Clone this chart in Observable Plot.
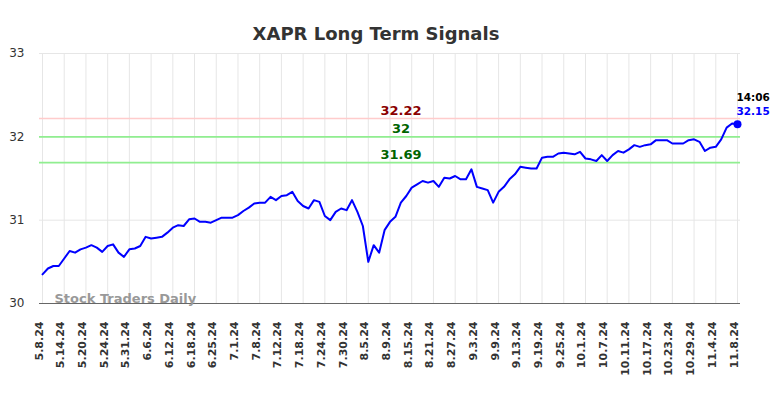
<!DOCTYPE html>
<html>
<head>
<meta charset="utf-8">
<script src="https://cdn.jsdelivr.net/npm/d3@7"></script>
<script src="https://cdn.jsdelivr.net/npm/@observablehq/plot@0.6"></script>
<style>
  html, body { margin: 0; padding: 0; background: #fff; }
  svg { font-family: "DejaVu Sans", sans-serif; }
</style>
</head>
<body>
<div id="chart"></div>
<script>
const title = "XAPR Long Term Signals";
const watermark = "Stock Traders Daily";
const timeLabel = "14:06";

// x tick labels, one every 4 trading days
const tickLabels = ["5.8.24","5.14.24","5.20.24","5.24.24","5.31.24","6.6.24","6.12.24","6.18.24","6.25.24","7.1.24","7.8.24","7.12.24","7.18.24","7.24.24","7.30.24","8.5.24","8.9.24","8.15.24","8.21.24","8.27.24","9.3.24","9.9.24","9.13.24","9.19.24","9.25.24","10.1.24","10.7.24","10.11.24","10.17.24","10.23.24","10.29.24","11.4.24","11.8.24"];
const tickStep = 4;

// daily closing values (trading-day index 0..128)
const values = [
  30.35,30.42,30.45,30.45,30.54,30.63,30.61,30.65,30.67,30.70,
  30.67,30.62,30.69,30.71,30.61,30.56,30.65,30.66,30.69,30.80,
  30.78,30.79,30.80,30.85,30.91,30.94,30.93,31.01,31.02,30.98,
  30.98,30.97,31.00,31.03,31.03,31.03,31.06,31.11,31.15,31.20,
  31.21,31.21,31.28,31.24,31.29,31.30,31.34,31.23,31.17,31.14,
  31.24,31.22,31.05,31.00,31.10,31.14,31.12,31.24,31.10,30.93,
  30.50,30.70,30.61,30.88,30.98,31.04,31.21,31.29,31.39,31.43,
  31.47,31.45,31.47,31.40,31.51,31.50,31.53,31.49,31.49,31.61,
  31.40,31.38,31.36,31.21,31.34,31.40,31.49,31.55,31.64,31.63,
  31.62,31.62,31.75,31.76,31.76,31.80,31.81,31.80,31.79,31.82,
  31.74,31.73,31.71,31.78,31.71,31.78,31.83,31.81,31.85,31.90,
  31.88,31.90,31.91,31.96,31.96,31.96,31.92,31.92,31.92,31.96,
  31.97,31.94,31.83,31.87,31.88,31.97,32.11,32.16,32.15
];

// signal levels
const signalValues = [32.22, 32, 31.69];
const signalLabels = ["32.22", "32", "31.69"];
const signalLineColors = ["#ffcccc", "#90ee90", "#90ee90"];
const signalTextColors = ["#8b0000", "#006400", "#006400"];

const yTicks = [30, 31, 32, 33];

const data = values.map((v, i) => ({i, v}));
const ticks = tickLabels.map((t, k) => ({i: k * tickStep, t}));
const signals = signalValues.map((v, k) => ({v, label: signalLabels[k], line: signalLineColors[k], text: signalTextColors[k]}));
const last = data[data.length - 1];
const mid = Math.floor((values.length - 1) / 2);

const chart = Plot.plot({
  width: 784,
  height: 398,
  marginTop: 53,
  marginBottom: 95,
  marginLeft: 39,
  marginRight: 44,
  style: {color: "#333", fontFamily: "DejaVu Sans, sans-serif", background: "#fff"},
  x: {type: "linear", domain: [0, values.length - 1], insetLeft: 3, insetRight: 3, axis: null},
  y: {domain: [30, 33], axis: null},
  marks: [
    Plot.ruleX(ticks, {x: "i", stroke: "#e6e6e6", strokeWidth: 1}),
    Plot.ruleY(yTicks.slice(1), {stroke: "#e6e6e6", strokeWidth: 1}),
    Plot.ruleY([yTicks[0]], {stroke: "#666", strokeWidth: 1.2}),
    Plot.ruleY(signals, {y: "v", stroke: "line", strokeWidth: 1.6}),
    Plot.text(signals, {x: () => mid, y: "v", text: "label", fill: "text", dx: 11, dy: -8, fontSize: 13, fontWeight: "bold"}),
    Plot.text([watermark], {frameAnchor: "bottom-left", text: d => d, dx: 15, dy: -1, textAnchor: "start", fill: "#999", fontSize: 13, fontWeight: "bold"}),
    Plot.line(data, {x: "i", y: "v", stroke: "#0000ff", strokeWidth: 2}),
    Plot.dot([last], {x: "i", y: "v", r: 4, fill: "#0000ff"}),
    Plot.text([last], {x: "i", y: "v", text: () => timeLabel, dy: -27, textAnchor: "start", dx: -1, fill: "#000", fontSize: 10.5, fontWeight: "bold"}),
    Plot.text([last], {x: "i", y: "v", text: d => d.v.toFixed(2), dy: -13, textAnchor: "start", dx: -1, fill: "#0000ff", fontSize: 10.5, fontWeight: "bold"}),
    Plot.text(yTicks, {y: d => d, frameAnchor: "left", text: d => String(d), textAnchor: "end", dx: -15, fill: "#333", fontSize: 12}),
    Plot.text(ticks, {x: "i", frameAnchor: "bottom", text: "t", rotate: -90, textAnchor: "end", dy: 18, fill: "#333", fontSize: 11, fontWeight: "bold"}),
    Plot.text([title], {frameAnchor: "top", text: d => d, dx: -14, dy: -26, fill: "#333", fontSize: 18, fontWeight: "bold"})
  ]
});
document.getElementById("chart").appendChild(chart);
</script>
</body>
</html>
